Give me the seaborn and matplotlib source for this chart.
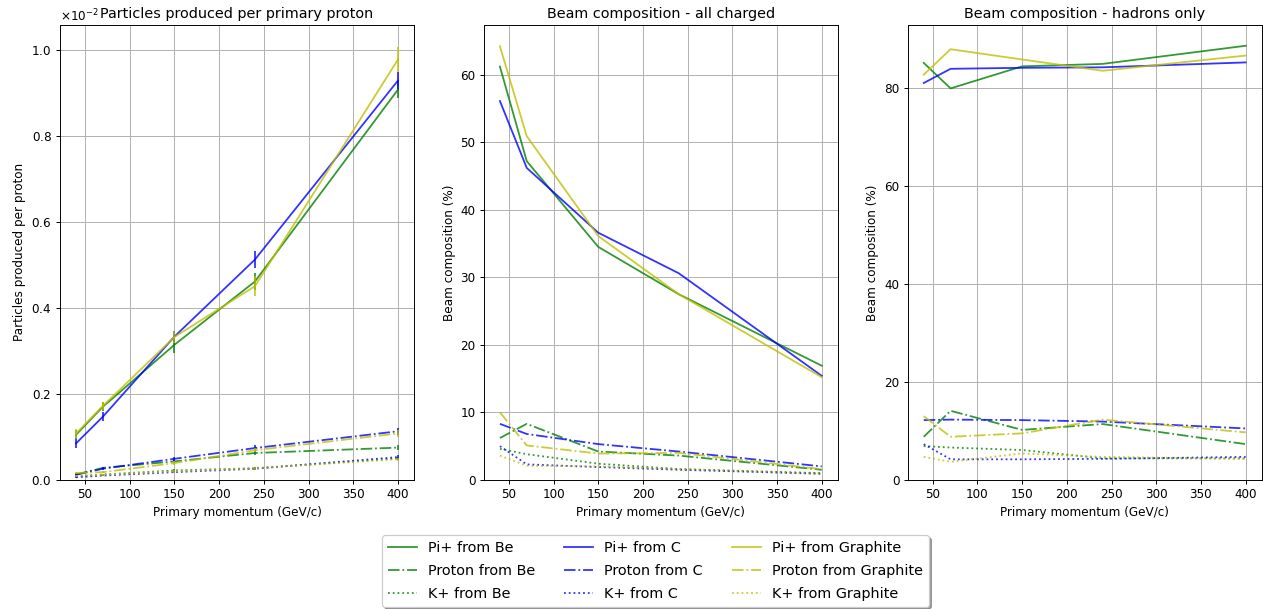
import numpy as np
import matplotlib
matplotlib.use("Agg")
import matplotlib.pyplot as plt
import seaborn as sns

# Primary proton momentum (GeV/c)
momentum = [40, 70, 150, 240, 400]

# Particles produced per primary proton, in units of 1e-2
PROD_SCALE = 1e-2
prod_pi_be = [0.105, 0.170, 0.314, 0.461, 0.907]
prod_pi_c = [0.085, 0.147, 0.333, 0.512, 0.928]
prod_pi_gr = [0.108, 0.172, 0.332, 0.450, 0.977]
prod_p_be = [0.0125, 0.028, 0.043, 0.0625, 0.075]
prod_p_c = [0.012, 0.026, 0.049, 0.074, 0.113]
prod_p_gr = [0.016, 0.018, 0.039, 0.069, 0.108]
prod_k_be = [0.008, 0.0125, 0.022, 0.027, 0.050]
prod_k_c = [0.006, 0.010, 0.018, 0.026, 0.053]
prod_k_gr = [0.009, 0.012, 0.020, 0.027, 0.048]

# Statistical uncertainties on the production yields (same units)
err_pi_be = [0.010, 0.010, 0.020, 0.020, 0.020]
err_pi_c = [0.010, 0.010, 0.012, 0.020, 0.020]
err_pi_gr = [0.010, 0.010, 0.015, 0.023, 0.030]
err_p_be = [0.003, 0.003, 0.004, 0.005, 0.006]
err_p_c = [0.003, 0.003, 0.004, 0.006, 0.008]
err_p_gr = [0.003, 0.003, 0.004, 0.005, 0.008]
err_k_be = [0.002, 0.002, 0.003, 0.003, 0.004]
err_k_c = [0.002, 0.002, 0.003, 0.003, 0.004]
err_k_gr = [0.002, 0.002, 0.003, 0.003, 0.004]

# Beam composition, all charged particles (%)
all_pi_be = [61.2, 47.2, 34.5, 27.5, 16.9]
all_pi_c = [56.1, 46.2, 36.6, 30.6, 15.4]
all_pi_gr = [64.2, 50.9, 36.1, 27.5, 15.2]
all_p_be = [6.2, 8.3, 4.2, 3.6, 1.5]
all_p_c = [8.3, 6.8, 5.3, 4.2, 2.0]
all_p_gr = [10.0, 5.1, 3.9, 4.0, 1.6]
all_k_be = [4.6, 3.8, 2.4, 1.6, 1.0]
all_k_c = [5.0, 2.3, 1.9, 1.5, 0.9]
all_k_gr = [3.6, 2.1, 2.0, 1.6, 0.9]

# Beam composition, hadrons only (%)
had_pi_be = [85.1, 79.9, 84.4, 84.9, 88.6]
had_pi_c = [81.0, 83.9, 84.1, 84.2, 85.2]
had_pi_gr = [82.7, 87.9, 85.8, 83.5, 86.6]
had_p_be = [8.8, 14.1, 10.2, 11.4, 7.3]
had_p_c = [12.2, 12.3, 12.2, 11.9, 10.5]
had_p_gr = [13.0, 8.8, 9.5, 12.3, 9.7]
had_k_be = [6.9, 6.6, 6.1, 4.4, 4.4]
had_k_c = [7.3, 4.2, 4.2, 4.3, 4.7]
had_k_gr = [4.7, 3.7, 5.4, 4.7, 4.3]

targets = ["Be", "C", "Graphite"]
particles = ["Pi+", "Proton", "K+"]
target_colors = {"Be": "g", "C": "b", "Graphite": "y"}
particle_styles = {"Pi+": "-", "Proton": "-.", "K+": ":"}

production = {
    ("Pi+", "Be"): (prod_pi_be, err_pi_be), ("Pi+", "C"): (prod_pi_c, err_pi_c),
    ("Pi+", "Graphite"): (prod_pi_gr, err_pi_gr),
    ("Proton", "Be"): (prod_p_be, err_p_be), ("Proton", "C"): (prod_p_c, err_p_c),
    ("Proton", "Graphite"): (prod_p_gr, err_p_gr),
    ("K+", "Be"): (prod_k_be, err_k_be), ("K+", "C"): (prod_k_c, err_k_c),
    ("K+", "Graphite"): (prod_k_gr, err_k_gr),
}
comp_all = {
    ("Pi+", "Be"): all_pi_be, ("Pi+", "C"): all_pi_c, ("Pi+", "Graphite"): all_pi_gr,
    ("Proton", "Be"): all_p_be, ("Proton", "C"): all_p_c, ("Proton", "Graphite"): all_p_gr,
    ("K+", "Be"): all_k_be, ("K+", "C"): all_k_c, ("K+", "Graphite"): all_k_gr,
}
comp_had = {
    ("Pi+", "Be"): had_pi_be, ("Pi+", "C"): had_pi_c, ("Pi+", "Graphite"): had_pi_gr,
    ("Proton", "Be"): had_p_be, ("Proton", "C"): had_p_c, ("Proton", "Graphite"): had_p_gr,
    ("K+", "Be"): had_k_be, ("K+", "C"): had_k_c, ("K+", "Graphite"): had_k_gr,
}

plt.rcParams.update(plt.rcParamsDefault)
plt.rcParams["font.family"] = ["DejaVu Sans"]

DPI = 86.4
fig, axes = plt.subplots(1, 3, figsize=(1263 / DPI, 609 / DPI), dpi=DPI)
fig.subplots_adjust(left=0.0475, right=0.999, top=0.959, bottom=0.212, wspace=0.197)

ALPHA = 0.8
x = np.array(momentum)

# Panel 1: production yields with error bars
ax = axes[0]
for tgt in targets:
    for part in particles:
        vals, errs = production[(part, tgt)]
        y = np.array(vals) * PROD_SCALE
        e = np.array(errs) * PROD_SCALE
        sns.lineplot(x=x, y=y, ax=ax, color=target_colors[tgt],
                     linestyle=particle_styles[part], alpha=ALPHA,
                     errorbar=None, label=f"{part} from {tgt}", legend=False)
        ax.errorbar(x, y, yerr=e, fmt="none", ecolor=target_colors[tgt],
                    alpha=ALPHA, elinewidth=1.5)
ax.set_ylim(bottom=0)
ax.ticklabel_format(axis="y", style="sci", scilimits=(-2, -2), useMathText=True)
ax.set_title("Particles produced per primary proton")
ax.set_ylabel("Particles produced per proton")

# Panels 2 and 3: beam composition
for ax, data, title in [(axes[1], comp_all, "Beam composition - all charged"),
                        (axes[2], comp_had, "Beam composition - hadrons only")]:
    for tgt in targets:
        for part in particles:
            sns.lineplot(x=x, y=data[(part, tgt)], ax=ax,
                         color=target_colors[tgt], linestyle=particle_styles[part],
                         alpha=ALPHA, errorbar=None,
                         label=f"{part} from {tgt}", legend=False)
    ax.set_ylim(bottom=0)
    ax.set_title(title)
    ax.set_ylabel("Beam composition (%)")

for ax in axes:
    ax.set_xlabel("Primary momentum (GeV/c)")
    ax.grid(True)

handles, labels = axes[1].get_legend_handles_labels()
fig.legend(handles, labels, loc="lower center", ncol=3, shadow=True,
           fontsize="large", labelspacing=0.62,
           bbox_to_anchor=(0.519, -0.008))

fig.savefig("out.png", dpi=DPI)
